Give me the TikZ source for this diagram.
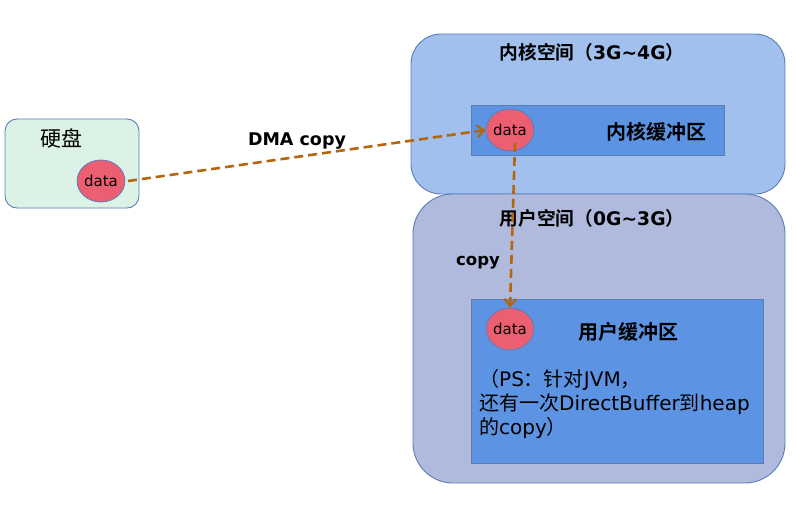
\documentclass[tikz,border=0pt]{standalone}
\usepackage{fontspec}
\setmainfont{DejaVu Sans}
\newfontfamily\cjk{Noto Sans CJK SC}[BoldFont={Noto Sans CJK SC Bold}]
\usetikzlibrary{arrows.meta,shapes.geometric}
\definecolor{diskfill}{HTML}{DDF2E6}
\definecolor{kernfill}{HTML}{A1C0ED}
\definecolor{userfill}{HTML}{AFBADC}
\definecolor{buffill}{HTML}{5C94E3}
\definecolor{datafill}{HTML}{EC5F73}
\definecolor{edge}{HTML}{5A7DB6}
\definecolor{arrowc}{HTML}{B5650C}
\tikzset{
  x=1pt, y=-1pt,
  region/.style={draw=edge, line width=0.9pt},
  buf/.style={draw=edge, fill=buffill, line width=0.8pt},
  datanode/.style={draw=edge, fill=datafill, ellipse, minimum width=44pt, minimum height=42pt, inner sep=0pt, font=\fontsize{15}{17}\selectfont, line width=0.8pt},
  title/.style={font=\bfseries\fontsize{18.7}{21}\selectfont, inner sep=0pt},
  buflabel/.style={font=\cjk\bfseries\fontsize{20}{22}\selectfont, inner sep=0pt},
  flow/.style={draw=arrowc, line width=2.6pt, dash pattern=on 9pt off 5pt, -{Straight Barb[length=7pt,width=12pt,line width=2.2pt]}},
}
\begin{document}
\begin{tikzpicture}
\useasboundingbox (0,0) rectangle (796,509);
% disk
\draw[region, fill=diskfill, rounded corners=12pt] (5,119) rectangle (139,208);
\node[font=\cjk\fontsize{21}{23}\selectfont, inner sep=0pt] (disklbl) at (61.5,138) {硬盘};
\node[datanode] (d1) at (101,181) {data};
% kernel space
\draw[region, fill=kernfill, rounded corners=30pt] (411,34) rectangle (785,194);
\node[title] (kt) at (592,52) {{\cjk 内核空间（}3G\textasciitilde4G{\cjk ）}};
\draw[buf] (471,105) rectangle (724,155);
\node[buflabel] (kb) at (656,132) {内核缓冲区};
\node[datanode] (d2) at (510,130) {data};
% user space
\draw[region, fill=userfill, rounded corners=40pt] (413,194) rectangle (785,483);
\node[title] (ut) at (592,218) {{\cjk 用户空间（}0G\textasciitilde3G{\cjk ）}};
\draw[buf] (471,299) rectangle (763,463);
\node[buflabel] (ub) at (628,332) {用户缓冲区};
\node[datanode] (d3) at (510,329) {data};
\node[anchor=north west, align=left, inner sep=0pt, font=\fontsize{20}{24}\selectfont] (ps) at (479,369) {{\cjk （}PS{\cjk ：针对}JVM{\cjk ，}\\{\cjk 还有一次}DirectBuffer{\cjk 到}heap\\{\cjk 的}copy{\cjk ）}};
% labels
\node[title, font=\bfseries\fontsize{17.5}{20}\selectfont] (dma) at (297,141) {DMA copy};
\node[title, font=\bfseries\fontsize{16.5}{20}\selectfont] (cp) at (478,263) {copy};
% arrows
\coordinate (a1s) at (128,181);
\coordinate (a2s) at (515,143);
\draw[flow] (a1s) -- (d2.west);
\draw[flow] (a2s) -- (d3.north);
\end{tikzpicture}
\end{document}
